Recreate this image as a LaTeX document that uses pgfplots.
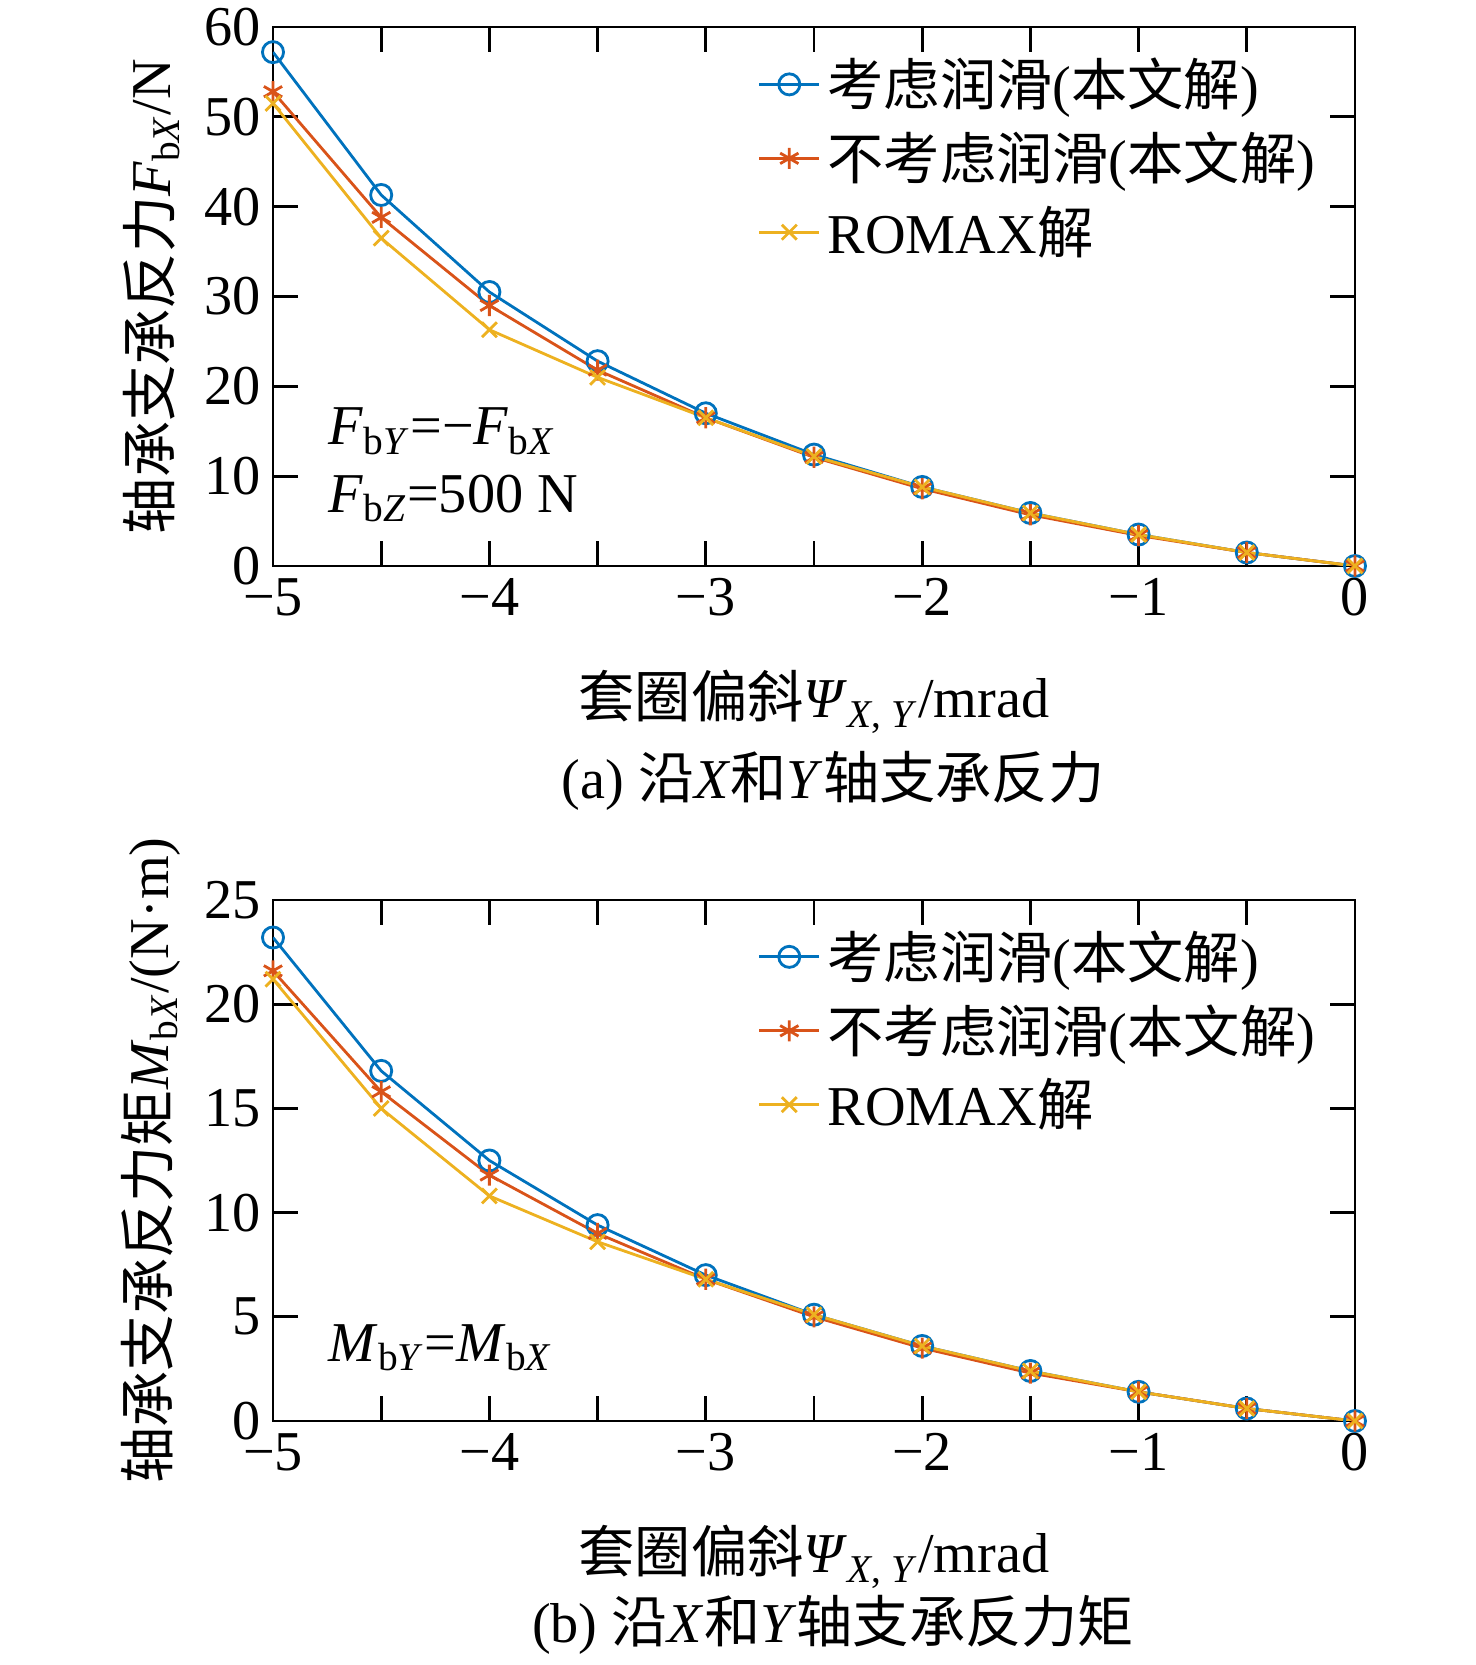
\documentclass[border=0pt]{standalone}
\usepackage{pgfplots}
\pgfplotsset{compat=1.18}
\usepackage{fontspec}
\setmainfont{Liberation Serif}
\newfontfamily\cjk{Noto Sans CJK SC}
\definecolor{c1}{RGB}{0,114,189}
\definecolor{c2}{RGB}{217,83,25}
\definecolor{c3}{RGB}{237,177,32}
\pgfplotsset{myax/.style={width=10.82cm,scale only axis,xmin=-5,xmax=0,ymin=0,
 xtick={-5,-4,-3,-2,-1,0},xticklabels={−5,−4,−3,−2,−1,0},
 minor xtick={-4.5,-3.5,-2.5,-1.5,-0.5},
 tick align=inside,xtick pos=both,ytick pos=both,major tick length=2.5mm,minor tick length=2.5mm,
 every tick/.style={black,thick},axis line style={thick},
 tick label style={font=\fontsize{16}{18}\selectfont},
 label style={font=\fontsize{16}{18}\selectfont},
 xlabel style={yshift=-3mm},
 /pgf/number format/assume math mode=true,
 legend style={draw=none,fill=none,at={(0.98,0.97)},anchor=north east,font=\fontsize{16}{19}\selectfont,row sep=2pt},
 legend cell align=left,
 every axis plot/.append style={thick,mark size=3pt},
 xlabel={{\cjk 套圈偏斜}\textit{Ψ}\textsubscript{\textit{X}, \textit{Y}}/mrad}}}
\begin{document}
\begin{tikzpicture}
\useasboundingbox (-2.73,0) rectangle (12.03,16.65);
\begin{axis}[myax,height=5.39cm,ymax=60,ytick={0,10,...,60},at={(0,10.99cm)},
 ylabel={{\cjk 轴承支承反力}\textit{F}\textsubscript{b\textit{X}}/N}]
\addplot[c1,mark=o] coordinates {(-5,57.2)(-4.5,41.3)(-4,30.5)(-3.5,22.8)(-3,17)(-2.5,12.4)(-2,8.8)(-1.5,5.9)(-1,3.5)(-0.5,1.5)(0,0)};
\addplot[c2,mark=asterisk] coordinates {(-5,52.8)(-4.5,38.8)(-4,29)(-3.5,21.8)(-3,16.5)(-2.5,12.1)(-2,8.6)(-1.5,5.7)(-1,3.4)(-0.5,1.5)(0,0)};
\addplot[c3,mark=x] coordinates {(-5,51.5)(-4.5,36.5)(-4,26.3)(-3.5,21)(-3,16.5)(-2.5,12.2)(-2,8.8)(-1.5,5.9)(-1,3.5)(-0.5,1.5)(0,0)};
\legend{{\cjk 考虑润滑}({\cjk 本文解}),{\cjk 不考虑润滑}({\cjk 本文解}),ROMAX{\cjk 解}}
\node[anchor=west,font=\fontsize{16}{18}\selectfont] at (axis cs:-4.8,15) {\textit{F}\textsubscript{b\textit{Y}}=−\textit{F}\textsubscript{b\textit{X}}};
\node[anchor=west,font=\fontsize{16}{18}\selectfont] at (axis cs:-4.8,7.5) {\textit{F}\textsubscript{b\textit{Z}}=500 N};
\end{axis}
\node[font=\fontsize{16}{18}\selectfont] at (5.6,8.84cm) {(a) {\cjk 沿}\textit{X}{\cjk 和}\textit{Y}{\cjk 轴支承反力}};
\begin{axis}[myax,height=5.21cm,ymax=25,ytick={0,5,...,25},at={(0,2.44cm)},
 ylabel={{\cjk 轴承支承反力矩}\textit{M}\textsubscript{b\textit{X}}/(N·m)}]
\addplot[c1,mark=o] coordinates {(-5,23.2)(-4.5,16.8)(-4,12.5)(-3.5,9.4)(-3,7.0)(-2.5,5.1)(-2,3.6)(-1.5,2.4)(-1,1.4)(-0.5,0.6)(0,0)};
\addplot[c2,mark=asterisk] coordinates {(-5,21.6)(-4.5,15.8)(-4,11.8)(-3.5,9.0)(-3,6.8)(-2.5,5.0)(-2,3.5)(-1.5,2.3)(-1,1.4)(-0.5,0.6)(0,0)};
\addplot[c3,mark=x] coordinates {(-5,21.2)(-4.5,15.0)(-4,10.8)(-3.5,8.6)(-3,6.8)(-2.5,5.1)(-2,3.6)(-1.5,2.4)(-1,1.4)(-0.5,0.6)(0,0)};
\legend{{\cjk 考虑润滑}({\cjk 本文解}),{\cjk 不考虑润滑}({\cjk 本文解}),ROMAX{\cjk 解}}
\node[anchor=west,font=\fontsize{16}{18}\selectfont] at (axis cs:-4.8,3.5) {\textit{M}\textsubscript{b\textit{Y}}=\textit{M}\textsubscript{b\textit{X}}};
\end{axis}
\node[font=\fontsize{16}{18}\selectfont] at (5.6,0.4cm) {(b) {\cjk 沿}\textit{X}{\cjk 和}\textit{Y}{\cjk 轴支承反力矩}};
\end{tikzpicture}
\end{document}
